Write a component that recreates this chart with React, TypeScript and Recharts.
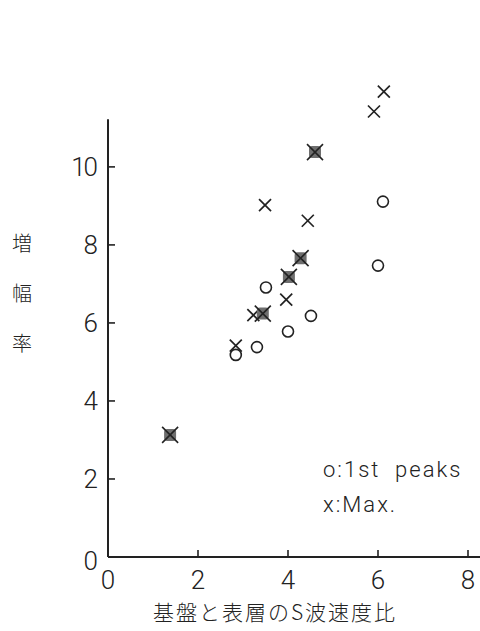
import { ScatterChart, Scatter, XAxis, YAxis, ReferenceLine, Legend } from 'recharts';

// S-wave velocity ratio (bedrock / surface layer) vs. amplification
const peakRatio = [2.84, 3.31, 3.51, 4.0, 4.51, 6.0, 6.11];
const peakAmp = [5.18, 5.38, 6.91, 5.78, 6.18, 7.47, 9.11];

const maxRatio = [2.84, 3.23, 3.49, 3.96, 4.44, 5.91, 6.13];
const maxAmp = [5.42, 6.2, 9.02, 6.6, 8.62, 11.42, 11.93];

// sites where the 1st peak is also the maximum
const bothRatio = [1.38, 3.44, 4.02, 4.28, 4.6];
const bothAmp = [3.13, 6.24, 7.18, 7.66, 10.38];

const ratioTicks = [0, 2, 4, 6, 8];
const ampTicks = [0, 2, 4, 6, 8, 10];
const ampAxisTop = 11.22;

const yLabelChars = ['増', '幅', '率'];
const xTitle = '基盤と表層のS波速度比';
const legendLines = ['o:1st  peaks', 'x:Max.'];

const toPoints = (xs: number[], ys: number[]) => xs.map((x, i) => ({ x, y: ys[i] }));

const INK = '#222';
const NUM_FONT = 'Roboto, "DejaVu Sans", sans-serif';
const CJK_FONT = '"Noto Sans CJK JP", "Noto Sans CJK SC", sans-serif';

const OpenCircle = (p: any) => (
  <circle cx={p.cx} cy={p.cy} r={5.5} fill="none" stroke={INK} strokeWidth={1.6} />
);

const Cross = (p: any) => {
  const s = 6;
  return (
    <g stroke={INK} strokeWidth={1.7}>
      <line x1={p.cx - s} y1={p.cy - s} x2={p.cx + s} y2={p.cy + s} />
      <line x1={p.cx - s} y1={p.cy + s} x2={p.cx + s} y2={p.cy - s} />
    </g>
  );
};

const FilledCross = (p: any) => {
  const s = 8;
  return (
    <g>
      <rect x={p.cx - 6} y={p.cy - 6} width={12} height={12} rx={3} fill="#6e6e6e" />
      <g stroke={INK} strokeWidth={1.6}>
        <line x1={p.cx - s} y1={p.cy - s} x2={p.cx + s} y2={p.cy + s} />
        <line x1={p.cx - s} y1={p.cy + s} x2={p.cx + s} y2={p.cy - s} />
      </g>
    </g>
  );
};

const YTick = (p: any) => (
  <g>
    <line x1={108} x2={115} y1={p.y} y2={p.y} stroke={INK} strokeWidth={1.6} />
    <text x={96} y={p.y + (p.payload.value === 0 ? 4 : 0)} textAnchor="end" dominantBaseline="central" fontSize={26} fontWeight={300} letterSpacing={-2} fontFamily={NUM_FONT} fill={INK}>
      {p.payload.value}
    </text>
  </g>
);

const XTick = (p: any) => (
  <g>
    {p.payload.value !== 0 && (
      <line x1={p.x} x2={p.x} y1={557} y2={550} stroke={INK} strokeWidth={1.6} />
    )}
    <text x={p.x} y={580} textAnchor="middle" dominantBaseline="central" fontSize={26} fontWeight={300} fontFamily={NUM_FONT} fill={INK}>
      {p.payload.value}
    </text>
  </g>
);

const YTitle = () => (
  <g>
    {yLabelChars.map((c, i) => (
      <text key={c} x={22} y={242 + i * 50} textAnchor="middle" dominantBaseline="central" fontSize={20} fontWeight={300} fontFamily={CJK_FONT} fill={INK}>
        {c}
      </text>
    ))}
  </g>
);

const XTitle = () => (
  <text x={275} y={611} textAnchor="middle" dominantBaseline="central" fontSize={21} fontWeight={300} letterSpacing={2} fontFamily={CJK_FONT} fill={INK}>
    {xTitle}
  </text>
);

const LegendBox = () => (
  <svg width={160} height={70}>
    {legendLines.map((t, i) => (
      <text key={t} x={0} y={22 + i * 35} fontSize={22} fontWeight={300} letterSpacing={2} fontFamily={NUM_FONT} fill={INK} style={{ whiteSpace: 'pre' }}>
        {t}
      </text>
    ))}
  </svg>
);

export default function App() {
  return (
    <div style={{ position: 'absolute', left: 0, top: 0, background: '#fff' }}>
      <ScatterChart width={480} height={631} margin={{ top: 1, right: 0, bottom: 0, left: 0 }}>
        <XAxis
          type="number"
          dataKey="x"
          domain={[0, 372 / 45]}
          allowDataOverflow
          ticks={ratioTicks}
          height={74}
          tickLine={false}
          axisLine={{ stroke: INK, strokeWidth: 2 }}
          tick={<XTick />}
          label={{ content: <XTitle /> }}
        />
        <YAxis
          type="number"
          dataKey="y"
          domain={[0, 556 / 45]}
          allowDataOverflow
          ticks={ampTicks}
          width={108}
          tickLine={false}
          axisLine={false}
          tick={<YTick />}
          label={{ content: <YTitle /> }}
        />
        <ReferenceLine
          segment={[{ x: 0, y: 0 }, { x: 0, y: ampAxisTop }]}
          stroke={INK}
          strokeWidth={2}
        />
        <Legend
          layout="vertical"
          align="center"
          verticalAlign="top"
          wrapperStyle={{ left: 323, top: 455, width: 160 }}
          content={<LegendBox />}
        />
        <Scatter data={toPoints(peakRatio, peakAmp)} shape={<OpenCircle />} isAnimationActive={false} />
        <Scatter data={toPoints(maxRatio, maxAmp)} shape={<Cross />} isAnimationActive={false} />
        <Scatter data={toPoints(bothRatio, bothAmp)} shape={<FilledCross />} isAnimationActive={false} />
      </ScatterChart>
    </div>
  );
}
